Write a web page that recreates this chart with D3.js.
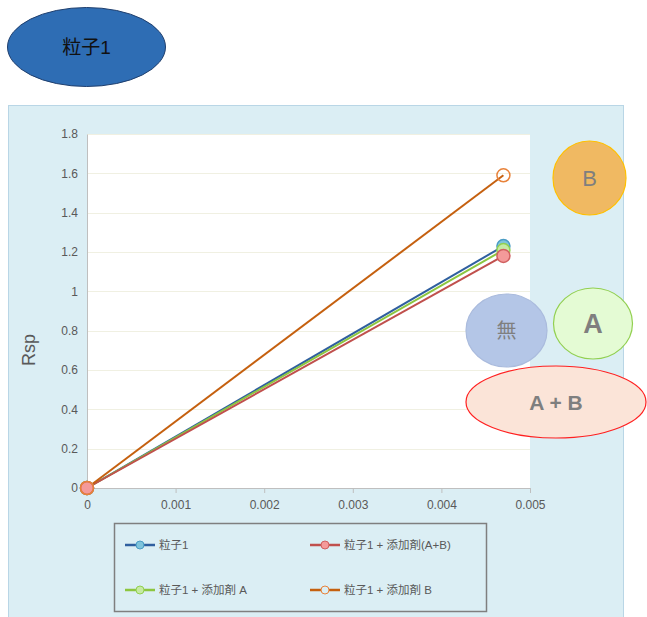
<!DOCTYPE html>
<html>
<head>
<meta charset="utf-8">
<script src="https://cdn.jsdelivr.net/npm/d3@7"></script>
<style>
  body { margin: 0; background: #fff; }
  svg { display: block; }
  text { font-family: "Liberation Sans", "Noto Sans CJK JP", sans-serif; }
</style>
</head>
<body>
<svg id="chart" width="647" height="617"></svg>
<script>
// data
var xValues = [0, 0.0047];
var seriesNames = ["粒子1", "粒子1 + 添加剤(A+B)", "粒子1 + 添加剤 A", "粒子1 + 添加剤 B"];
var rspBase = [0, 1.23];
var rspAB = [0, 1.18];
var rspA = [0, 1.21];
var rspB = [0, 1.59];
var xTicks = [0, 0.001, 0.002, 0.003, 0.004, 0.005];
var yTicks = [0, 0.2, 0.4, 0.6, 0.8, 1, 1.2, 1.4, 1.6, 1.8];

var series = [
    {name: seriesNames[0], values: rspBase, line: "#2f5f9f", fill: "#7ec4dc", stroke: "#4a9cc4"},
    {name: seriesNames[2], values: rspA, line: "#8cc63f", fill: "#c6eaa4", stroke: "#92d050"},
    {name: seriesNames[1], values: rspAB, line: "#c0504d", fill: "#f49a9a", stroke: "#d06060"},
    {name: seriesNames[3], values: rspB, line: "#c5600f", fill: "none", stroke: "#e8823a"}
];

var svg = d3.select("#chart");

// chart panel
svg.append("rect")
    .attr("x", 8.5).attr("y", 105.5)
    .attr("width", 615).attr("height", 520)
    .attr("fill", "#dbeef4")
    .attr("stroke", "#b9d6e6");

var x = d3.scaleLinear().domain([0, 0.005]).range([87, 530]);
var y = d3.scaleLinear().domain([0, 1.8]).range([488, 134]);

svg.append("rect")
    .attr("x", x(0)).attr("y", y(1.8))
    .attr("width", x(0.005) - x(0)).attr("height", y(0) - y(1.8))
    .attr("fill", "#fff");

// grid
svg.append("g").selectAll("line")
    .data(yTicks.slice(1))
    .enter().append("line")
    .attr("x1", x(0)).attr("x2", x(0.005))
    .attr("y1", function (d) { return Math.round(y(d)) + 0.5; })
    .attr("y2", function (d) { return Math.round(y(d)) + 0.5; })
    .attr("stroke", "#f0f0e2");

var xAxis = svg.append("g")
    .attr("transform", "translate(0," + y(0) + ")")
    .call(d3.axisBottom(x).tickValues(xTicks).tickSize(5).tickSizeOuter(0)
        .tickFormat(function (d) { return d === 0 ? "0" : d3.format(".3f")(d); }));
var yAxis = svg.append("g")
    .attr("transform", "translate(" + x(0) + ",0)")
    .call(d3.axisLeft(y).tickValues(yTicks).tickSize(4).tickSizeOuter(0)
        .tickFormat(function (d) { return d3.format("")(d); }));

[xAxis, yAxis].forEach(function (a) {
    a.select(".domain").attr("stroke", "#bfbfbf");
    a.selectAll(".tick line").attr("stroke", "#bfbfbf");
    a.selectAll(".tick text")
        .attr("fill", "#595959")
        .style("font-size", "12px")
        .style("font-family", "Liberation Sans, sans-serif");
});
xAxis.selectAll(".tick text").attr("dy", "1.1em");
yAxis.selectAll(".tick line").attr("x2", 0);
yAxis.selectAll(".tick text").attr("x", -9);

svg.append("text")
    .attr("transform", "translate(35,350) rotate(-90)")
    .attr("text-anchor", "middle")
    .attr("fill", "#595959")
    .style("font-size", "18px")
    .text("Rsp");

// series
var line = d3.line()
    .x(function (d, i) { return x(xValues[i]); })
    .y(function (d) { return y(d); });

series.forEach(function (s) {
    svg.append("path")
        .datum(s.values)
        .attr("d", line)
        .attr("fill", "none")
        .attr("stroke", s.line)
        .attr("stroke-width", 2);
});
series.forEach(function (s) {
    svg.append("g").selectAll("circle")
        .data(s.values)
        .enter().append("circle")
        .attr("cx", function (d, i) { return x(xValues[i]); })
        .attr("cy", function (d) { return y(d); })
        .attr("r", 6.5)
        .attr("fill", s.fill)
        .attr("stroke", s.stroke)
        .attr("stroke-width", 1.5);
});

// legend
svg.append("rect")
    .attr("x", 114.5).attr("y", 523.5)
    .attr("width", 372).attr("height", 88)
    .attr("fill", "none")
    .attr("stroke", "#7f7f7f")
    .attr("stroke-width", 1.5);

var legendItems = [
    {s: series[0], lx: 125, ly: 545},
    {s: series[2], lx: 310, ly: 545},
    {s: series[1], lx: 125, ly: 590},
    {s: series[3], lx: 310, ly: 590}
];
legendItems.forEach(function (it) {
    var g = svg.append("g");
    g.append("line")
        .attr("x1", it.lx).attr("x2", it.lx + 30)
        .attr("y1", it.ly).attr("y2", it.ly)
        .attr("stroke", it.s.line).attr("stroke-width", 2.5);
    g.append("circle")
        .attr("cx", it.lx + 15).attr("cy", it.ly).attr("r", 4)
        .attr("fill", it.s.fill === "none" ? "#dbeef4" : it.s.fill)
        .attr("stroke", it.s.stroke);
    g.append("text")
        .attr("x", it.lx + 34).attr("y", it.ly + 4)
        .attr("fill", "#595959")
        .style("font-size", "11.5px")
        .text(it.s.name);
});

// title bubble
svg.append("ellipse")
    .attr("cx", 86.5).attr("cy", 47).attr("rx", 79).attr("ry", 39.5)
    .attr("fill", "#2e6db4").attr("stroke", "#1f3f6e").attr("stroke-width", 1);
svg.append("text")
    .attr("x", 86.5).attr("y", 54)
    .attr("text-anchor", "middle")
    .attr("fill", "#111")
    .style("font-size", "19px")
    .text("粒子1");

// annotation bubbles
var bubbles = [
    {cx: 589.5, cy: 178, rx: 36.5, ry: 37, fill: "#f0b962", stroke: "#ffc000", label: "B", size: 22, bold: false},
    {cx: 506.5, cy: 330.5, rx: 40.5, ry: 36.5, fill: "#b4c6e7", stroke: "#aabbdd", label: "無", size: 20, bold: false},
    {cx: 593, cy: 323.5, rx: 39.5, ry: 35.5, fill: "#e4fbd4", stroke: "#92d050", label: "A", size: 27, bold: true},
    {cx: 556, cy: 402, rx: 90, ry: 36, fill: "#fbe4d8", stroke: "#ff2020", label: "A + B", size: 21, bold: true}
];
bubbles.forEach(function (b) {
    svg.append("ellipse")
        .attr("cx", b.cx).attr("cy", b.cy).attr("rx", b.rx).attr("ry", b.ry)
        .attr("fill", b.fill).attr("stroke", b.stroke).attr("stroke-width", 1.2);
    svg.append("text")
        .attr("x", b.cx).attr("y", b.cy + b.size * 0.36)
        .attr("text-anchor", "middle")
        .attr("fill", "#7f7f7f")
        .style("font-size", b.size + "px")
        .style("font-weight", b.bold ? "bold" : "normal")
        .text(b.label);
});
</script>
</body>
</html>
